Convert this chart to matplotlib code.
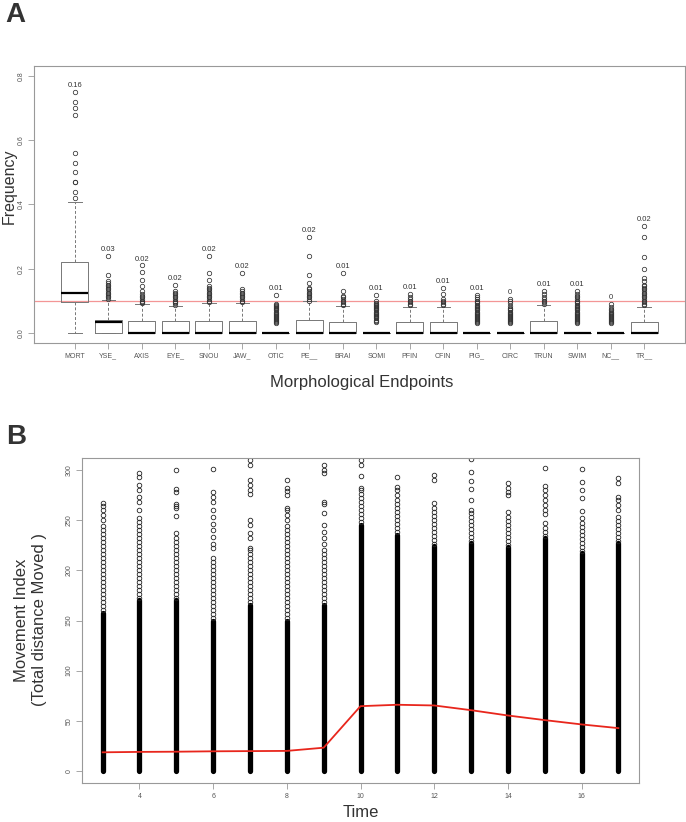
'''two panel figure: morphological endpoint frequencies and movement index over time
'''
import matplotlib
matplotlib.use('Agg')
import matplotlib.pyplot as plt

plt.rcParams['font.family'] = ['Liberation Sans', 'DejaVu Sans']

# ---- panel A data ----
categories = ['MORT', 'YSE_', 'AXIS', 'EYE_', 'SNOU', 'JAW_', 'OTIC', 'PE__', 'BRAI',
              'SOMI', 'PFIN', 'CFIN', 'PIG_', 'CIRC', 'TRUN', 'SWIM', 'NC__', 'TR__']
box_q1 = [0.095, 0, 0, 0, 0, 0, 0, 0, 0, 0, 0, 0, 0, 0, 0, 0, 0, 0]
box_med = [0.125, 0.033, 0, 0, 0, 0, 0, 0, 0, 0, 0, 0, 0, 0, 0, 0, 0, 0]
box_q3 = [0.22, 0.04, 0.037, 0.037, 0.038, 0.038, 0, 0.04, 0.035,
          0, 0.035, 0.035, 0, 0, 0.038, 0, 0, 0.035]
whisk_lo = [0] * 18
whisk_hi = [0.407, 0.102, 0.089, 0.084, 0.093, 0.093, 0, 0.0976, 0.083,
            0, 0.081, 0.081, 0, 0, 0.085, 0, 0, 0.081]
mean_labels = ['0.16', '0.03', '0.02', '0.02', '0.02', '0.02', '0.01', '0.02', '0.01',
               '0.01', '0.01', '0.01', '0.01', '0', '0.01', '0.01', '0', '0.02']
outliers = [
    [0.42, 0.44, 0.47, 0.47, 0.50, 0.53, 0.56, 0.68, 0.70, 0.72, 0.75],
    [0.105, 0.11, 0.115, 0.12, 0.125, 0.13, 0.135, 0.14, 0.145, 0.15, 0.155, 0.16, 0.18, 0.24],
    [0.093, 0.097, 0.10, 0.105, 0.11, 0.115, 0.12, 0.13, 0.145, 0.165, 0.19, 0.21],
    [0.088, 0.092, 0.096, 0.10, 0.105, 0.11, 0.115, 0.12, 0.125, 0.13, 0.15],
    [0.097, 0.10, 0.105, 0.11, 0.115, 0.12, 0.125, 0.13, 0.135, 0.14, 0.145, 0.165, 0.187, 0.24],
    [0.097, 0.10, 0.105, 0.11, 0.115, 0.12, 0.125, 0.13, 0.135, 0.186],
    [0.03, 0.033, 0.036, 0.04, 0.043, 0.046, 0.05, 0.053, 0.056, 0.06, 0.063, 0.066,
     0.07, 0.073, 0.076, 0.08, 0.083, 0.086, 0.09, 0.118],
    [0.10, 0.105, 0.11, 0.115, 0.12, 0.125, 0.13, 0.135, 0.14, 0.155, 0.18, 0.24, 0.30],
    [0.087, 0.09, 0.095, 0.10, 0.105, 0.11, 0.115, 0.13, 0.187],
    [0.035, 0.038, 0.041, 0.045, 0.048, 0.052, 0.055, 0.06, 0.063, 0.066, 0.07, 0.073,
     0.076, 0.08, 0.083, 0.086, 0.09, 0.094, 0.098, 0.119],
    [0.085, 0.09, 0.095, 0.10, 0.105, 0.11, 0.12],
    [0.085, 0.09, 0.095, 0.10, 0.105, 0.12, 0.14],
    [0.03, 0.033, 0.036, 0.04, 0.043, 0.046, 0.05, 0.053, 0.056, 0.06, 0.063, 0.066,
     0.07, 0.073, 0.076, 0.08, 0.084, 0.088, 0.092, 0.096, 0.10, 0.105, 0.11, 0.119],
    [0.03, 0.033, 0.036, 0.04, 0.043, 0.046, 0.05, 0.053, 0.056, 0.06, 0.063, 0.066,
     0.07, 0.074, 0.078, 0.082, 0.092, 0.10, 0.106],
    [0.09, 0.095, 0.10, 0.105, 0.11, 0.12, 0.13],
    [0.03, 0.033, 0.036, 0.04, 0.043, 0.046, 0.05, 0.053, 0.056, 0.06, 0.063, 0.066,
     0.07, 0.073, 0.076, 0.08, 0.084, 0.088, 0.092, 0.096, 0.10, 0.105, 0.11, 0.115, 0.12, 0.13],
    [0.03, 0.033, 0.036, 0.04, 0.043, 0.046, 0.05, 0.053, 0.056, 0.06, 0.063, 0.066,
     0.07, 0.075, 0.08, 0.091],
    [0.085, 0.09, 0.095, 0.10, 0.105, 0.11, 0.115, 0.12, 0.125, 0.13, 0.135, 0.14, 0.145,
     0.15, 0.16, 0.17, 0.20, 0.235, 0.30, 0.334],
]
threshold = 0.1

# ---- panel B data ----
times = [3, 4, 5, 6, 7, 8, 9, 10, 11, 12, 13, 14, 15, 16, 17]
move_mean = [18.6, 19.0, 19.2, 19.6, 19.8, 20.0, 23.2, 64.6, 66.0, 65.3, 60.6, 55.3, 50.7, 46.4, 42.7]
move_solid = [157, 170, 170, 150, 165, 150, 165, 245, 235, 224, 227, 223, 232, 217, 227]
move_points = [
    [160, 164, 168, 172, 176, 180, 184, 188, 192, 196, 200, 204, 208, 212, 216, 220, 224,
     228, 232, 236, 240, 244, 250, 255, 260, 264, 267],
    [172, 176, 180, 184, 188, 192, 196, 200, 204, 208, 212, 216, 220, 224, 228, 232, 236,
     240, 244, 248, 252, 260, 268, 273, 280, 285, 293, 297],
    [172, 176, 180, 184, 188, 192, 196, 200, 204, 208, 212, 216, 220, 224, 228, 232, 237,
     254, 262, 264, 266, 278, 281, 300],
    [152, 156, 160, 164, 168, 172, 176, 180, 184, 188, 192, 196, 200, 204, 208, 212, 222,
     226, 233, 240, 246, 253, 260, 268, 273, 278, 301],
    [168, 172, 176, 180, 184, 188, 192, 196, 200, 204, 208, 212, 216, 220, 222, 232, 237,
     245, 250, 276, 280, 285, 290, 305, 310],
    [152, 156, 160, 164, 168, 172, 176, 180, 184, 188, 192, 196, 200, 204, 208, 212, 216,
     220, 224, 228, 232, 236, 240, 244, 250, 255, 260, 262, 275, 279, 282, 290],
    [168, 172, 176, 180, 184, 188, 192, 196, 200, 204, 208, 212, 216, 220, 226, 232, 238,
     245, 257, 266, 268, 297, 300, 305],
    [248, 252, 256, 260, 264, 268, 272, 276, 280, 282, 294, 305, 310],
    [238, 242, 246, 250, 254, 258, 262, 266, 270, 275, 280, 283, 293],
    [226, 230, 234, 238, 242, 246, 250, 254, 258, 262, 267, 290, 295],
    [229, 233, 237, 241, 245, 249, 253, 257, 260, 270, 281, 289, 298, 311],
    [225, 229, 233, 237, 241, 245, 249, 253, 258, 275, 278, 282, 287],
    [234, 238, 242, 247, 256, 260, 265, 270, 275, 280, 284, 302],
    [219, 223, 227, 231, 235, 239, 243, 247, 252, 259, 272, 280, 288, 301],
    [229, 233, 237, 241, 245, 249, 253, 260, 265, 270, 273, 287, 292],
]

W, H = 686, 822
FRAME = '#999999'
TXT = '#333333'
TICK_TXT = '#555555'

fig = plt.figure(figsize=(W / 100, H / 100), dpi=100)


def px_axes(left, top, right, bottom):
    return fig.add_axes([left / W, 1 - bottom / H, (right - left) / W, (bottom - top) / H])


def style_axes(ax):
    for sp in ax.spines.values():
        sp.set_color(FRAME)
        sp.set_linewidth(0.8)
    ax.tick_params(direction='out', length=4, width=0.6, color=FRAME,
                   labelsize=5, labelcolor=TICK_TXT, pad=3)
    for lab in ax.get_yticklabels():
        lab.set_rotation(90)
        lab.set_va('center')


# ---- panel A ----
ax1 = px_axes(34, 66, 685, 343)
positions = list(range(1, len(categories) + 1))
stats = []
for i in range(len(categories)):
    stats.append({'med': box_med[i], 'q1': box_q1[i], 'q3': box_q3[i],
                  'whislo': whisk_lo[i], 'whishi': whisk_hi[i], 'fliers': outliers[i]})
ax1.bxp(stats, positions=positions, widths=0.8, capwidths=0.4, patch_artist=False,
        boxprops=dict(color='#777777', linewidth=0.7),
        whiskerprops=dict(color='#777777', linewidth=0.7, linestyle=(0, (3, 2))),
        capprops=dict(color='#777777', linewidth=0.7),
        medianprops=dict(color='black', linewidth=1.6, solid_capstyle='butt'),
        flierprops=dict(marker='o', markerfacecolor='none', markeredgecolor='#333333',
                        markersize=3.2, markeredgewidth=0.55))
ax1.axhline(threshold, color='#f07c7c', linewidth=0.9, alpha=0.8, zorder=1)
for i, lab in enumerate(mean_labels):
    top = max(outliers[i])
    ax1.text(positions[i], top + 0.02, lab, ha='center', va='center', fontsize=5.5, color=TXT)
ax1.set_xlim(-0.22, 19.22)
ax1.set_ylim(-0.032, 0.832)
ax1.set_yticks([0.0, 0.2, 0.4, 0.6, 0.8])
ax1.set_yticklabels(['0.0', '0.2', '0.4', '0.6', '0.8'])
ax1.set_xticks(positions)
ax1.set_xticklabels(categories)
style_axes(ax1)

fig.text(15 / W, 1 - 15 / H, 'A', fontsize=20, fontweight='bold', color=TXT, ha='center', va='center')
fig.text(9 / W, 1 - 186 / H, 'Frequency', fontsize=11.5, color=TXT, rotation=90, ha='center', va='center')
fig.text(362 / W, 1 - 382 / H, 'Morphological Endpoints', fontsize=12, color=TXT, ha='center', va='center')

# ---- panel B ----
ax2 = px_axes(82, 458, 639, 783)
ax2.vlines(times, 0, move_solid, colors='black', linewidth=3.8, capstyle='round', zorder=2)
for t, pts in zip(times, move_points):
    ax2.plot([t] * len(pts), pts, linestyle='none', marker='o', markerfacecolor='none',
             markeredgecolor='#222222', markersize=3.3, markeredgewidth=0.6, zorder=2)
ax2.plot(times, move_mean, color='#e8261c', linewidth=1.3, zorder=3)
ax2.set_xlim(2.44, 17.56)
ax2.set_ylim(-12, 312)
ax2.set_xticks([4, 6, 8, 10, 12, 14, 16])
ax2.set_yticks([0, 50, 100, 150, 200, 250, 300])
style_axes(ax2)

fig.text(16 / W, 1 - 437 / H, 'B', fontsize=20, fontweight='bold', color=TXT, ha='center', va='center')
fig.text(22 / W, 1 - 620 / H, 'Movement Index', fontsize=12, color=TXT, rotation=90, ha='center', va='center')
fig.text(40 / W, 1 - 620 / H, '(Total distance Moved )', fontsize=12, color=TXT, rotation=90,
         ha='center', va='center')
fig.text(361 / W, 1 - 812 / H, 'Time', fontsize=12, color=TXT, ha='center', va='center')

fig.savefig('out.png', dpi=100)
